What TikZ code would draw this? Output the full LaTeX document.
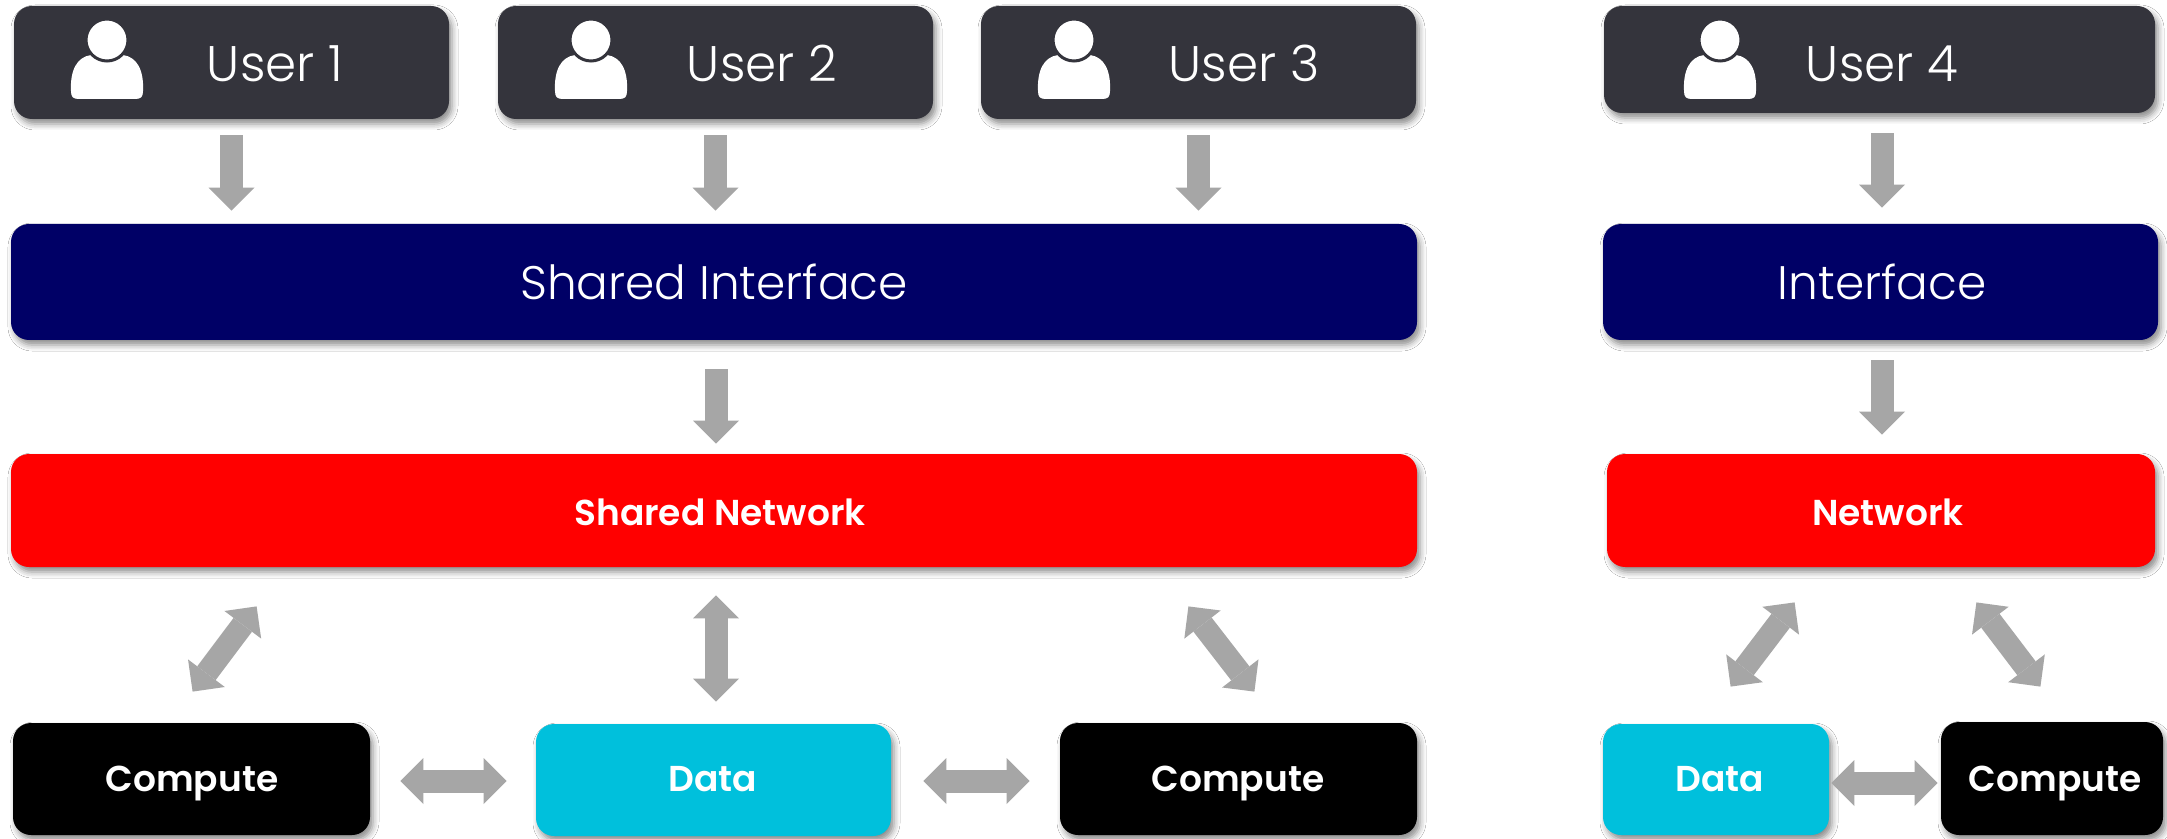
\documentclass[tikz,border=0pt]{standalone}
\usepackage{fontspec}
\setmainfont{Poppins}
\IfFontExistsTF{Poppins Light}{\newfontfamily\lightfont{Poppins Light}}{\newfontfamily\lightfont{Poppins}}
\IfFontExistsTF{Poppins SemiBold}{\newfontfamily\semifont{Poppins SemiBold}}{\newfontfamily\semifont{Poppins}[UprightFeatures={FakeBold=0}]\renewcommand\semifont{\bfseries}}
\usetikzlibrary{arrows.meta,shadows.blur,calc}
\definecolor{userbg}{RGB}{52,52,60}
\definecolor{navyblue}{RGB}{0,0,102}
\definecolor{netred}{RGB}{255,0,0}
\definecolor{datacyan}{RGB}{0,192,220}
\definecolor{arrowgray}{RGB}{166,166,166}
\tikzset{
  box/.style={rectangle, rounded corners=9pt, inner sep=0pt, draw=none,
    blur shadow={shadow xshift=1.5pt, shadow yshift=-2.5pt, shadow blur radius=3pt, shadow opacity=45}},
  userbox/.style={box, fill=userbg},
  ifbox/.style={box, fill=navyblue},
  netbox/.style={box, fill=netred},
  databox/.style={box, fill=datacyan},
  compbox/.style={box, fill=black},
  thintext/.style={text=white, inner sep=0pt, anchor=base, font=\lightfont\fontsize{25pt}{30pt}\selectfont},
  iftext/.style={text=white, inner sep=0pt, anchor=base, font=\lightfont\fontsize{23.5pt}{28pt}\selectfont},
  boldtext/.style={text=white, inner sep=0pt, anchor=base, font=\semifont\fontsize{18pt}{22pt}\selectfont},
  garrow/.style={draw=arrowgray, line width=11.5pt,
    -{Triangle[length=11.5pt,width=23pt,line width=0pt]}},
  gdouble/.style={draw=arrowgray, line width=11.5pt,
    {Triangle[length=11.5pt,width=23pt,line width=0pt]}-{Triangle[length=11.5pt,width=23pt,line width=0pt]}},
  usericon/.pic={
    \fill[white] (-36,51) .. controls (-37,30) and (-30,17) .. (-16,15) -- (16,15)
      .. controls (30,17) and (37,30) .. (36,51) .. controls (36,57) and (34,59) .. (28,59)
      -- (-28,59) .. controls (-34,59) and (-36,57) .. (-36,51) -- cycle;
    \filldraw[fill=white, draw=userbg, line width=1.5pt] (0,0) circle[radius=10.5pt];
  }
}
\begin{document}
\begin{tikzpicture}[x=0.5pt,y=-0.5pt]
\useasboundingbox[fill=white] (0,0) rectangle (2167,839);

% users
\node[userbox, minimum width=217.5pt, minimum height=56.5pt] (u1) at (231.5,62.5) {};
\node[userbox, minimum width=217.5pt, minimum height=56.5pt] (u2) at (715.5,62.5) {};
\node[userbox, minimum width=217.5pt, minimum height=56.5pt] (u3) at (1198.5,62.5) {};
\node[userbox, minimum width=275.5pt, minimum height=53.5pt] (u4) at (1879.5,59.5) {};
\pic at (107,40) {usericon};
\pic at (591,40) {usericon};
\pic at (1074,40) {usericon};
\pic at (1720,40) {usericon};
\node[thintext] (u1t) at (275,82) {User 1};
\node[thintext] (u2t) at (762,82) {User 2};
\node[thintext] (u3t) at (1244,82) {User 3};
\node[thintext] (u4t) at (1882,82) {User 4};

% interfaces
\node[ifbox, minimum width=703pt, minimum height=58pt] (si) at (714,282) {};
\node[ifbox, minimum width=277.5pt, minimum height=58pt] (if) at (1880.5,282) {};
\node[iftext] (sit) at (714,300) {Shared Interface};
\node[iftext] (ift) at (1882,300) {Interface};

% networks
\node[netbox, minimum width=703pt, minimum height=56.5pt] (sn) at (714,510.5) {};
\node[netbox, minimum width=274pt, minimum height=56.5pt] (nw) at (1881,510.5) {};
\node[boldtext] (snt) at (720,525) {Shared Network};
\node[boldtext] (nwt) at (1888,525) {Network};

% bottom row
\node[compbox, minimum width=178.5pt, minimum height=56pt] (c1) at (191.5,779) {};
\node[databox, minimum width=177.5pt, minimum height=56pt] (d1) at (713.5,780) {};
\node[compbox, minimum width=178.5pt, minimum height=56pt] (c2) at (1238.5,779) {};
\node[databox, minimum width=113pt, minimum height=55.5pt] (d2) at (1716,779.5) {};
\node[compbox, minimum width=111pt, minimum height=56.5pt] (c3) at (2052,778.5) {};
\node[boldtext] (c1t) at (192,791) {Compute};
\node[boldtext] (d1t) at (713,791) {Data};
\node[boldtext] (c2t) at (1238,791) {Compute};
\node[boldtext] (d2t) at (1720,791) {Data};
\node[boldtext] (c3t) at (2055,791) {Compute};

% arrows users -> interface
\draw[garrow] ($(u1.south)+(0,16)$) -- ($(u1.south |- si.north)+(0,-13)$);
\draw[garrow] ($(u2.south)+(0,16)$) -- ($(u2.south |- si.north)+(0,-13)$);
\draw[garrow] ($(u3.south)+(0,16)$) -- ($(u3.south |- si.north)+(0,-13)$);
\draw[garrow] ($(u4.south)+(2.5,20)$) -- ($(u4.south |- if.north)+(2.5,-16)$);

% interface -> network
\draw[garrow] ($(si.south)+(2,29)$) -- ($(si.south |- sn.north)+(2,-10)$);
\draw[garrow] ($(if.south)+(1.5,20)$) -- ($(if.south |- nw.north)+(1.5,-19)$);

% network <-> bottom (left group)
\draw[gdouble] ($(sn.south)+(2,28)$) -- ($(sn.south |- d1.north)+(2,-22)$);
\draw[gdouble] ($(sn.south west)+(246,39)$) -- ($(c1.north west)+(180,-31)$);
\draw[gdouble] ($(sn.south east)+(-229,39)$) -- ($(c2.north east)+(-163,-31)$);
\draw[gdouble] ($(c1.east)+(30,2)$) -- ($(d1.west |- c1.east)+(-29,2)$);
\draw[gdouble] ($(d1.east)+(32,1)$) -- ($(c2.west |- d1.east)+(-30,1)$);

% network <-> bottom (right group)
\draw[gdouble] ($(nw.south west)+(188,35)$) -- ($(d2.north west)+(128,-37)$);
\draw[gdouble] ($(nw.south east)+(-179,35)$) -- ($(c3.north east)+(-123,-35)$);
\draw[gdouble] ($(d2.east)+(2,3.5)$) -- ($(c3.west |- d2.east)+(-3,3.5)$);
\end{tikzpicture}
\end{document}
